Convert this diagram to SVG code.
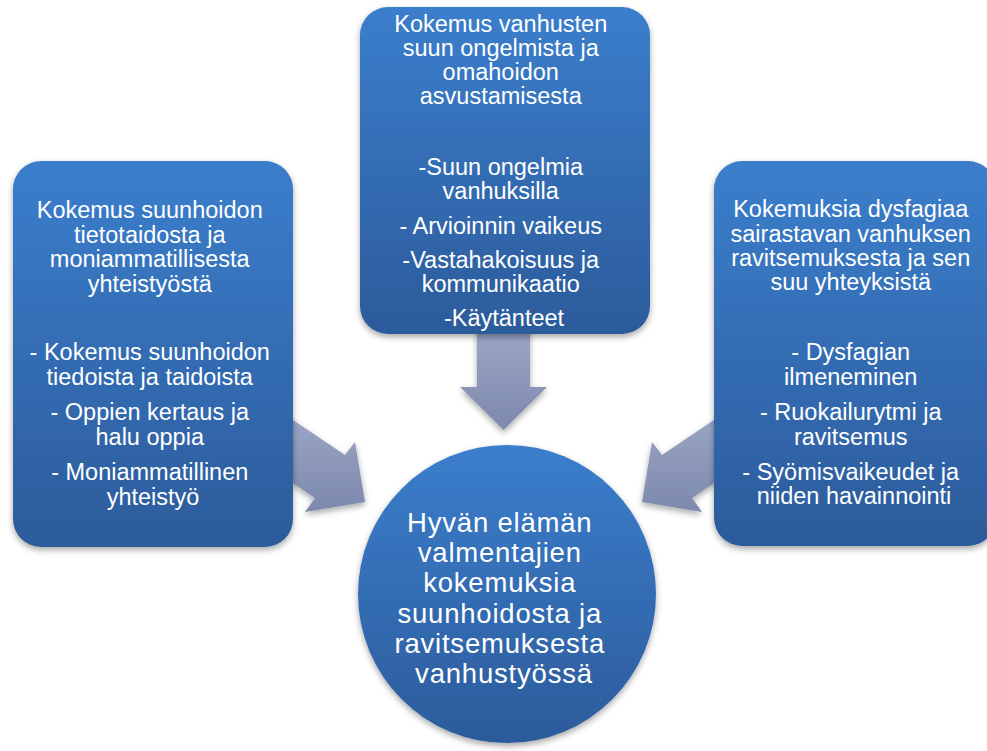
<svg xmlns="http://www.w3.org/2000/svg" width="987" height="751" viewBox="0 0 987 751">
<defs>
<linearGradient id="gBlue" x1="0" y1="0" x2="0" y2="1">
<stop offset="0" stop-color="#3b7ecc"/>
<stop offset="1" stop-color="#2c5b9b"/>
</linearGradient>
<linearGradient id="gArrow" x1="0" y1="0" x2="0" y2="1">
<stop offset="0" stop-color="#9ea9c7"/>
<stop offset="1" stop-color="#7d89ad"/>
</linearGradient>
<filter id="sh" x="-20%" y="-20%" width="140%" height="140%">
<feDropShadow dx="0" dy="3" stdDeviation="3" flood-color="#000" flood-opacity="0.35"/>
</filter>
</defs>
<style>
.node{fill:url(#gBlue);filter:url(#sh)}
.arrow{fill:url(#gArrow);filter:url(#sh)}
text{font-family:"Liberation Sans",Arial,sans-serif;fill:#fff;text-anchor:middle}
.t{font-size:23.5px}
.c{font-size:27.5px;letter-spacing:0.8px}
</style>
<rect width="987" height="751" fill="#fff"/>
<g id="connectors">
<polygon class="arrow" points="477,320 530,320 530,387 547,387 503.5,430 460,387 477,387"/>
<polygon class="arrow" points="270,404.5 345,455 355,442 365,502 305,512 315,498 270,467.5"/>
<polygon class="arrow" points="737,404.5 662,455 652,442 642,502 702,512 692,498 737,467.5"/>
</g>
<g id="node-left">
<rect class="node" x="13" y="161" width="280" height="386" rx="28"/>
<text class="t" x="153">
<tspan x="153" y="218">Kokemus suunhoidon</tspan>
<tspan x="153" y="243">tietotaidosta ja</tspan>
<tspan x="153" y="267">moniammatillisesta</tspan>
<tspan x="153" y="292">yhteistyöstä</tspan>
<tspan x="153" y="360">- Kokemus suunhoidon</tspan>
<tspan x="153" y="385">tiedoista ja taidoista</tspan>
<tspan x="153" y="420">- Oppien kertaus ja</tspan>
<tspan x="153" y="445">halu oppia</tspan>
<tspan x="153" y="480">- Moniammatillinen</tspan>
<tspan x="153" y="505">yhteistyö</tspan>
</text>
</g>
<g id="node-top">
<rect class="node" x="360" y="7" width="290" height="327" rx="28"/>
<text class="t" x="504">
<tspan x="504" y="32">Kokemus vanhusten</tspan>
<tspan x="504" y="56">suun ongelmista ja</tspan>
<tspan x="504" y="80">omahoidon</tspan>
<tspan x="504" y="104">asvustamisesta</tspan>
<tspan x="504" y="175">-Suun ongelmia</tspan>
<tspan x="504" y="199">vanhuksilla</tspan>
<tspan x="504" y="234">- Arvioinnin vaikeus</tspan>
<tspan x="504" y="268">-Vastahakoisuus ja</tspan>
<tspan x="504" y="292">kommunikaatio</tspan>
<tspan x="504" y="326">-Käytänteet</tspan>
</text>
</g>
<g id="node-right">
<rect class="node" x="714" y="161" width="282" height="385" rx="28"/>
<text class="t" x="854">
<tspan x="854" y="217">Kokemuksia dysfagiaa</tspan>
<tspan x="854" y="242">sairastavan vanhuksen</tspan>
<tspan x="854" y="266">ravitsemuksesta ja sen</tspan>
<tspan x="854" y="290">suu yhteyksistä</tspan>
<tspan x="854" y="360">- Dysfagian</tspan>
<tspan x="854" y="385">ilmeneminen</tspan>
<tspan x="854" y="420">- Ruokailurytmi ja</tspan>
<tspan x="854" y="445">ravitsemus</tspan>
<tspan x="854" y="480">- Syömisvaikeudet ja</tspan>
<tspan x="854" y="504">niiden havainnointi</tspan>
</text>
</g>
<g id="node-center">
<circle class="node" cx="507" cy="594" r="149"/>
<text class="c" x="504">
<tspan x="504" y="532">Hyvän elämän</tspan>
<tspan x="504" y="562">valmentajien</tspan>
<tspan x="504" y="592">kokemuksia</tspan>
<tspan x="504" y="623">suunhoidosta ja</tspan>
<tspan x="504" y="653">ravitsemuksesta</tspan>
<tspan x="504" y="683">vanhustyössä</tspan>
</text>
</g>
</svg>
